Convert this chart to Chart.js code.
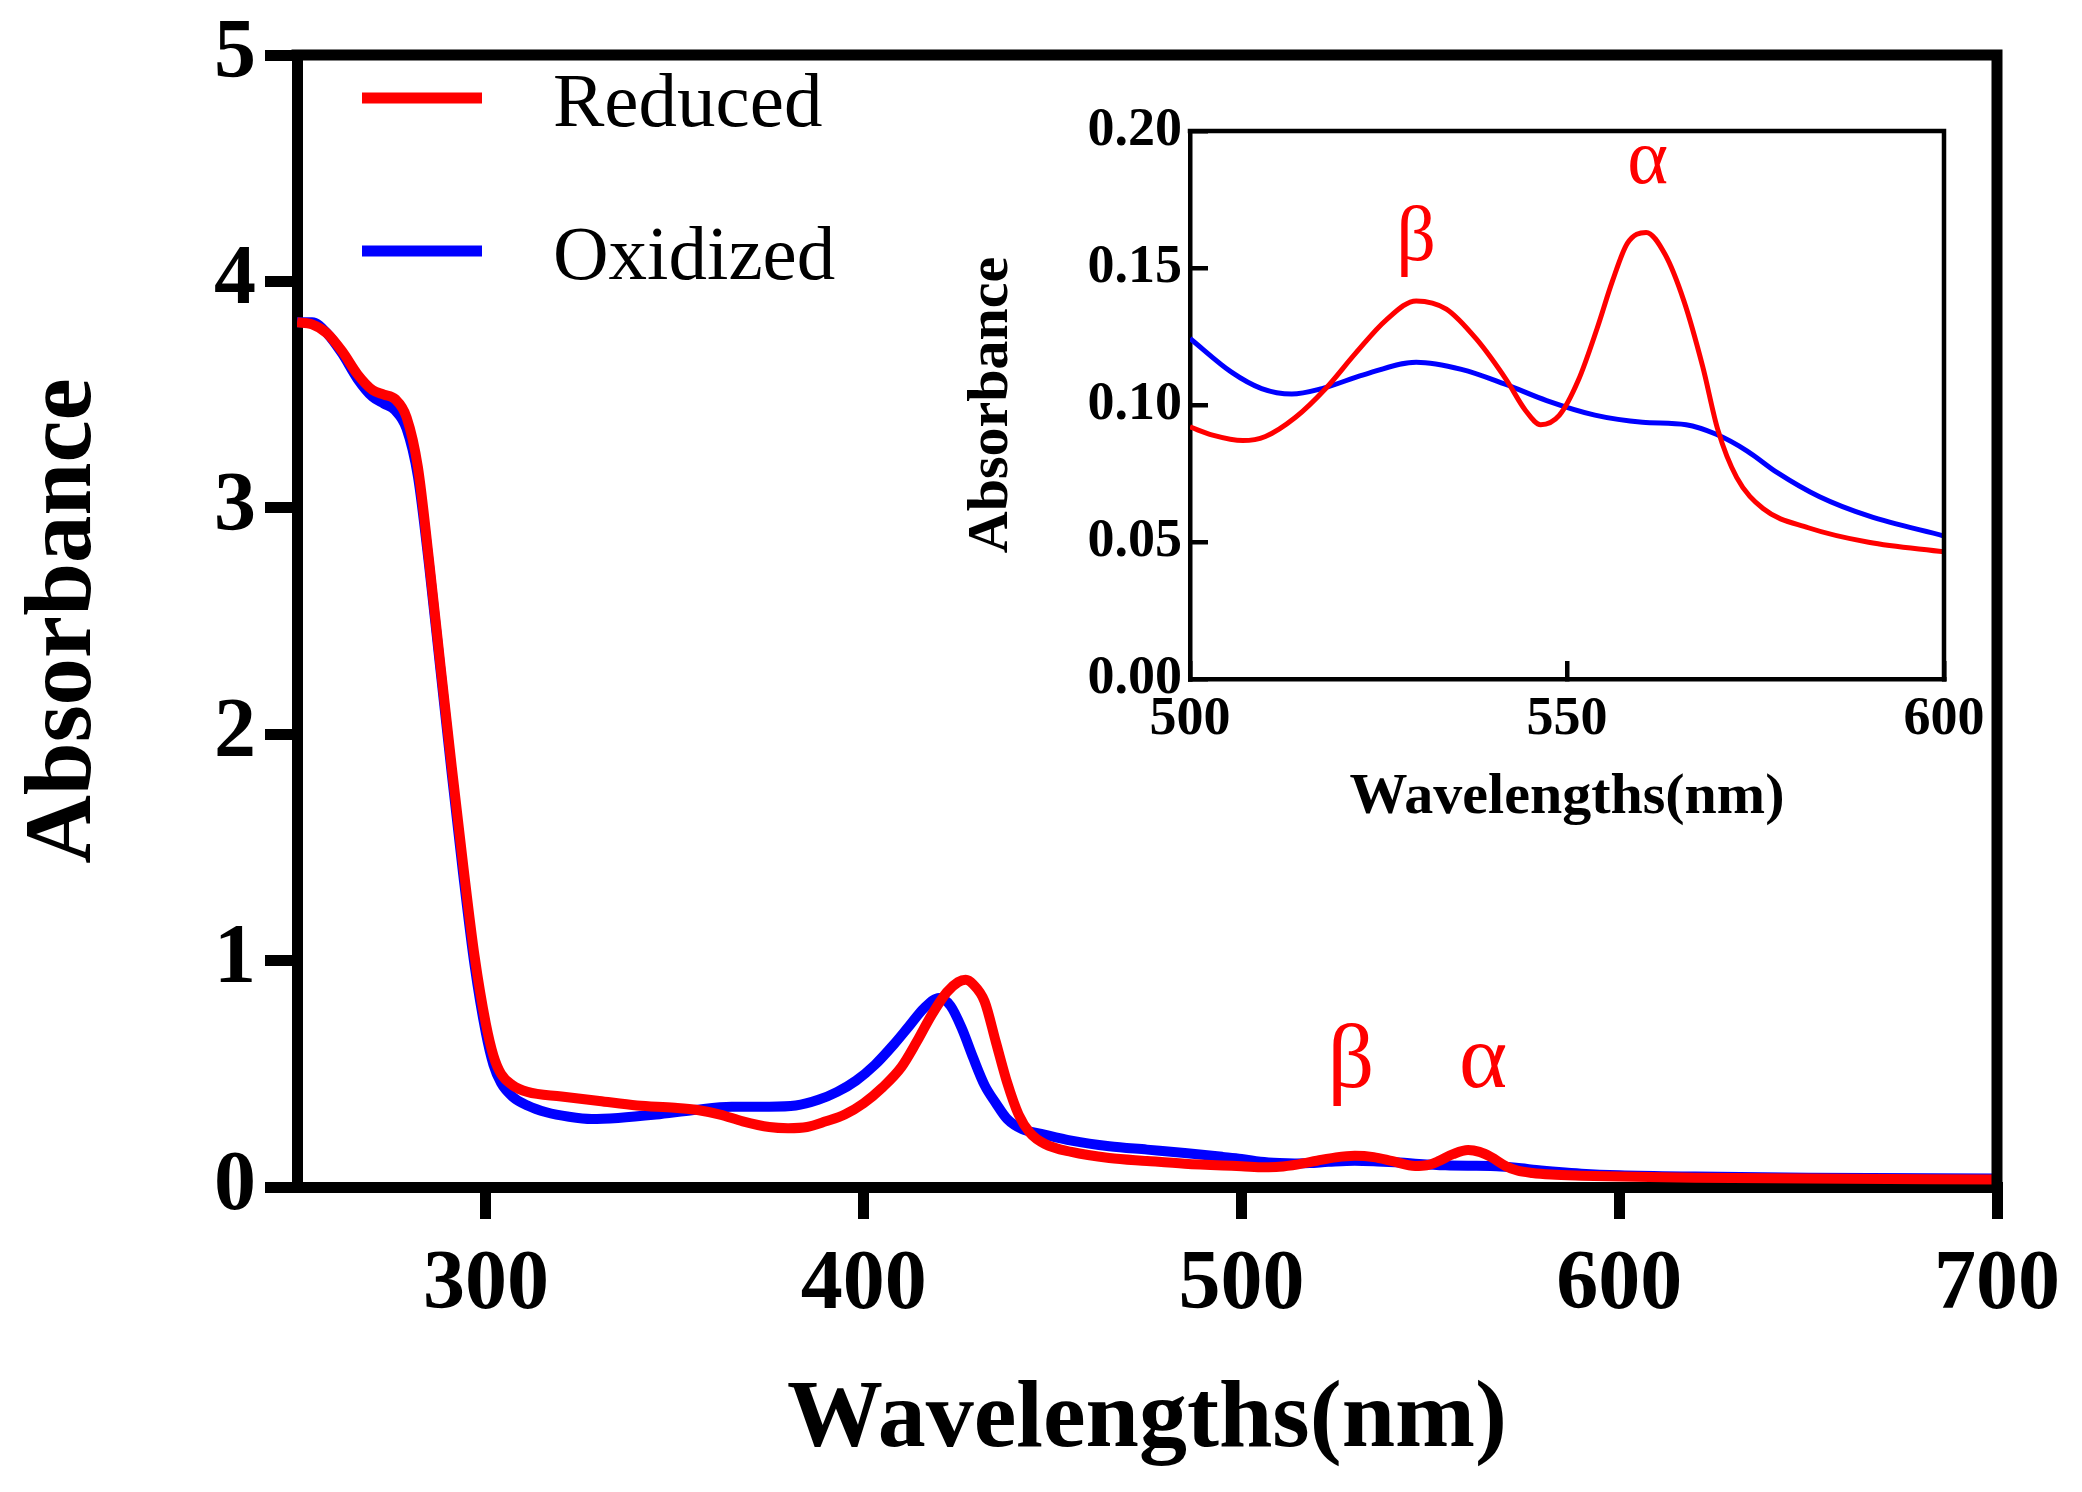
<!DOCTYPE html>
<html>
<head>
<meta charset="utf-8">
<script src="https://cdn.jsdelivr.net/npm/chart.js@4.4.1/dist/chart.umd.min.js"></script>
<style>
  html, body { margin: 0; padding: 0; background: #fff; }
  #wrap { position: relative; width: 2082px; height: 1492px; }
  #main { position: absolute; left: 0; top: 0; width: 2082px; height: 1492px; }
  #inset { position: absolute; left: 900px; top: 100px; width: 1100px; height: 780px; }
</style>
</head>
<body>
<div id="wrap">
  <canvas id="main" width="2082" height="1492"></canvas>
  <canvas id="inset" width="1100" height="780"></canvas>
</div>
<script>
// ---------- data ----------
const reducedX = [250, 254, 258, 262, 266, 270, 273, 276, 279, 282, 285, 288, 291, 294, 297, 300, 302, 304, 307, 311,
  320, 330, 340, 350, 356, 362, 368, 375, 380, 385, 390, 395, 400, 405, 410, 414, 418, 422, 425, 427, 429, 432, 435, 438,
  441, 444, 448, 455, 465, 475, 485, 495, 500, 506, 510, 515, 520, 525, 530, 535, 540, 546, 549, 552, 556, 560, 563,
  566, 570, 573, 577, 582, 590, 600, 620, 650, 700];
const reducedY = [3.82, 3.81, 3.77, 3.69, 3.59, 3.52, 3.50, 3.48, 3.40, 3.18, 2.76, 2.30, 1.85, 1.42, 1.02, 0.72, 0.58,
  0.50, 0.45, 0.42, 0.40, 0.38, 0.36, 0.35, 0.34, 0.32, 0.29, 0.265, 0.26, 0.265, 0.29, 0.32, 0.37, 0.44, 0.53, 0.64,
  0.76, 0.86, 0.905, 0.915, 0.895, 0.82, 0.64, 0.46, 0.32, 0.24, 0.19, 0.155, 0.128, 0.115, 0.103, 0.095, 0.092, 0.087, 0.089,
  0.100, 0.116, 0.131, 0.138, 0.132, 0.114, 0.093, 0.096, 0.113, 0.145, 0.163, 0.155, 0.133, 0.092, 0.073, 0.062,
  0.055, 0.050, 0.046, 0.041, 0.037, 0.033];

const oxidizedX = [250, 254, 258, 262, 266, 270, 273, 276, 279, 282, 285, 288, 291, 294, 297, 300, 302, 304, 307, 311,
  316, 322, 328, 335, 345, 355, 365, 375, 382, 388, 393, 398, 403, 408, 412, 416, 420, 423, 426, 429, 432, 435,
  438, 442, 447, 455, 465, 475, 485, 495, 500, 505, 510, 514, 518, 523, 530, 536, 542, 547, 554, 560, 566, 570, 574,
  578, 584, 590, 600, 620, 650, 700];
const oxidizedY = [3.82, 3.82, 3.77, 3.68, 3.57, 3.49, 3.46, 3.43, 3.35, 3.14, 2.74, 2.28, 1.82, 1.38, 0.98, 0.68, 0.54,
  0.46, 0.40, 0.36, 0.33, 0.31, 0.30, 0.305, 0.32, 0.34, 0.355, 0.355, 0.36, 0.385, 0.42, 0.47, 0.54, 0.63, 0.71, 0.79,
  0.835, 0.80, 0.70, 0.57, 0.45, 0.37, 0.30, 0.255, 0.235, 0.205, 0.18, 0.165, 0.15, 0.133, 0.124, 0.112, 0.106,
  0.104, 0.106, 0.111, 0.116, 0.113, 0.108, 0.102, 0.096, 0.094, 0.093, 0.089, 0.083, 0.075, 0.066, 0.059, 0.052,
  0.046, 0.041, 0.037];

// inset: 500-600 nm zoom
const insetReducedX = [500, 503, 507, 510, 514, 518, 522, 526, 530, 534, 538, 542, 544.5, 546.5, 549, 551.5, 554, 556,
  558, 560.5, 563, 565.5, 568, 570, 572.5, 576, 582, 590, 600];
const insetReducedY = [0.092, 0.089, 0.087, 0.0885, 0.0955, 0.106, 0.119, 0.131, 0.138, 0.135, 0.124, 0.109, 0.098,
  0.0928, 0.0963, 0.109, 0.128, 0.145, 0.159, 0.163, 0.155, 0.138, 0.114, 0.091, 0.0736, 0.0622, 0.0552, 0.0499, 0.0464];
const insetOxidizedX = [500, 505.5, 509.5, 513.5, 517.5, 523, 530, 536, 541.7, 547.3, 553.7, 560, 565.8, 569.8, 573.9,
  577.9, 583.5, 590, 600];
const insetOxidizedY = [0.1243, 0.112, 0.106, 0.104, 0.106, 0.111, 0.1156, 0.113, 0.1077, 0.1016, 0.0963, 0.0937,
  0.0928, 0.0893, 0.0832, 0.0753, 0.0665, 0.0595, 0.0522];

const seriesLabels = ["Reduced", "Oxidized"];

const mainXTicks = [300, 400, 500, 600, 700];
const mainYTicks = [0, 1, 2, 3, 4, 5];
const insetXTicks = [500, 550, 600];
const insetYTicks = [0, 0.05, 0.1, 0.15, 0.2];

// band labels (text and anchor in data units)
const peakNames = ["\u03B2", "\u03B1"];
const mainPeakX = [529, 564];
const mainPeakY = [0.44, 0.44];
const insetPeakX = [530, 560.7];
const insetPeakY = [0.153, 0.181];

// ---------- helpers ----------
const RED = "rgb(255, 0, 0)";
const BLUE = "rgb(0, 0, 255)";
const serif = "'Liberation Serif', 'Times New Roman', serif";

function toPoints(xs, ys) {
  return xs.map((x, i) => ({ x: x, y: ys[i] }));
}

function fixedTicks(values) {
  return (scale) => { scale.ticks = values.map((v) => ({ value: v })); };
}

// force the box size and drop the label overhang padding, so the plot area is exactly where we put it
function fixedSize(prop, size) {
  return (s) => {
    s[prop] = size;
    s.paddingTop = 0;
    s.paddingBottom = 0;
    s.paddingLeft = 0;
    s.paddingRight = 0;
  };
}

// top and right sides of the box
function framePlugin(width) {
  return {
    id: "frame",
    afterDatasetsDraw(chart) {
      const { ctx, chartArea: a } = chart;
      ctx.save();
      ctx.strokeStyle = "#000";
      ctx.lineWidth = width;
      ctx.lineJoin = "miter";
      ctx.beginPath();
      ctx.moveTo(a.left - width / 2, a.top);
      ctx.lineTo(a.right, a.top);
      ctx.lineTo(a.right, a.bottom + width / 2);
      ctx.stroke();
      ctx.restore();
    },
  };
}

function peakLabelPlugin(xs, ys, size) {
  return {
    id: "peaks",
    afterDatasetsDraw(chart) {
      const { ctx } = chart;
      const sx = chart.scales.x;
      const sy = chart.scales.y;
      ctx.save();
      ctx.fillStyle = RED;
      ctx.font = size + "px " + serif;
      ctx.textAlign = "center";
      ctx.textBaseline = "alphabetic";
      peakNames.forEach((t, i) => {
        ctx.fillText(t, sx.getPixelForValue(xs[i]), sy.getPixelForValue(ys[i]));
      });
      ctx.restore();
    },
  };
}

// legend inside the top-left of the plot
const legendPlugin = {
  id: "insideLegend",
  afterDraw(chart) {
    const { ctx, chartArea: a } = chart;
    ctx.save();
    ctx.font = "77px " + serif;
    ctx.textAlign = "left";
    ctx.textBaseline = "alphabetic";
    chart.data.datasets.forEach((ds, i) => {
      const y = a.top + 43 + i * 153;
      ctx.strokeStyle = ds.borderColor;
      ctx.lineWidth = 11;
      ctx.lineCap = "butt";
      ctx.beginPath();
      ctx.moveTo(a.left + 65, y);
      ctx.lineTo(a.left + 185, y);
      ctx.stroke();
      ctx.fillStyle = "#000";
      ctx.fillText(ds.label, a.left + 256, y + 28);
    });
    ctx.restore();
  },
};

function axisStyle(opts) {
  return {
    border: { display: true, color: "#000", width: opts.lw },
    grid: {
      drawOnChartArea: false,
      drawTicks: true,
      tickLength: opts.tl,
      tickWidth: opts.lw,
      tickColor: "#000",
      color: "#000",
      lineWidth: opts.lw,
    },
    ticks: {
      color: "#000",
      autoSkip: false,
      maxRotation: 0,
      padding: opts.pad,
      font: { family: serif, size: opts.tickSize, weight: "bold" },
      callback: opts.fmt,
    },
    title: {
      display: true,
      text: opts.title,
      color: "#000",
      font: { family: serif, size: opts.titleSize, weight: "bold" },
      padding: opts.titlePad,
    },
  };
}

// ---------- main chart ----------
new Chart(document.getElementById("main"), {
  type: "line",
  data: {
    datasets: [
      {
        label: seriesLabels[0],
        data: toPoints(reducedX, reducedY),
        borderColor: RED,
        borderWidth: 10,
        pointRadius: 0,
        cubicInterpolationMode: "monotone",
      },
      {
        label: seriesLabels[1],
        data: toPoints(oxidizedX, oxidizedY),
        borderColor: BLUE,
        borderWidth: 10,
        pointRadius: 0,
        cubicInterpolationMode: "monotone",
      },
    ],
  },
  options: {
    responsive: false,
    animation: false,
    devicePixelRatio: 1,
    layout: { padding: { top: 55, right: 85, left: 0, bottom: 0 } },
    plugins: { legend: { display: false }, tooltip: { enabled: false } },
    scales: {
      x: Object.assign({
        type: "linear",
        min: 250,
        max: 700,
        afterBuildTicks: fixedTicks(mainXTicks),
        afterFit: fixedSize("height", 305),
      }, axisStyle({ lw: 11, tl: 32, pad: 17, tickSize: 84, title: "Wavelengths(nm)", titleSize: 96,
        titlePad: { top: 0, bottom: 13 } })),
      y: Object.assign({
        type: "linear",
        min: 0,
        max: 5,
        afterBuildTicks: fixedTicks(mainYTicks),
        afterFit: fixedSize("width", 297),
      }, axisStyle({ lw: 11, tl: 32, pad: 9, tickSize: 84, title: "Absorbance", titleSize: 95,
        titlePad: { top: 8, bottom: 0 } })),
    },
  },
  plugins: [framePlugin(11), legendPlugin, peakLabelPlugin(mainPeakX, mainPeakY, 92)],
});

// ---------- inset ----------
new Chart(document.getElementById("inset"), {
  type: "line",
  data: {
    datasets: [
      {
        label: seriesLabels[0],
        data: toPoints(insetReducedX, insetReducedY),
        borderColor: RED,
        borderWidth: 5,
        pointRadius: 0,
        cubicInterpolationMode: "monotone",
      },
      {
        label: seriesLabels[1],
        data: toPoints(insetOxidizedX, insetOxidizedY),
        borderColor: BLUE,
        borderWidth: 5,
        pointRadius: 0,
        cubicInterpolationMode: "monotone",
      },
    ],
  },
  options: {
    responsive: false,
    animation: false,
    devicePixelRatio: 1,
    layout: { padding: { top: 31, right: 56, left: 0, bottom: 0 } },
    plugins: { legend: { display: false }, tooltip: { enabled: false } },
    scales: {
      x: Object.assign({
        type: "linear",
        min: 500,
        max: 600,
        afterBuildTicks: fixedTicks(insetXTicks),
        afterFit: fixedSize("height", 201),
      }, axisStyle({ lw: 4.5, tl: -18, pad: 27, tickSize: 54, title: "Wavelengths(nm)", titleSize: 58,
        titlePad: { top: 0, bottom: 47 } })),
      y: Object.assign({
        type: "linear",
        min: 0,
        max: 0.2,
        afterBuildTicks: fixedTicks(insetYTicks),
        afterFit: fixedSize("width", 290),
      }, axisStyle({ lw: 4.5, tl: -18, pad: 26, tickSize: 54, title: "Absorbance", titleSize: 58,
        titlePad: { top: 57, bottom: 0 }, fmt: (v) => Number(v).toFixed(2) })),
    },
  },
  plugins: [framePlugin(4.5), peakLabelPlugin(insetPeakX, insetPeakY, 78)],
});
</script>
</body>
</html>
